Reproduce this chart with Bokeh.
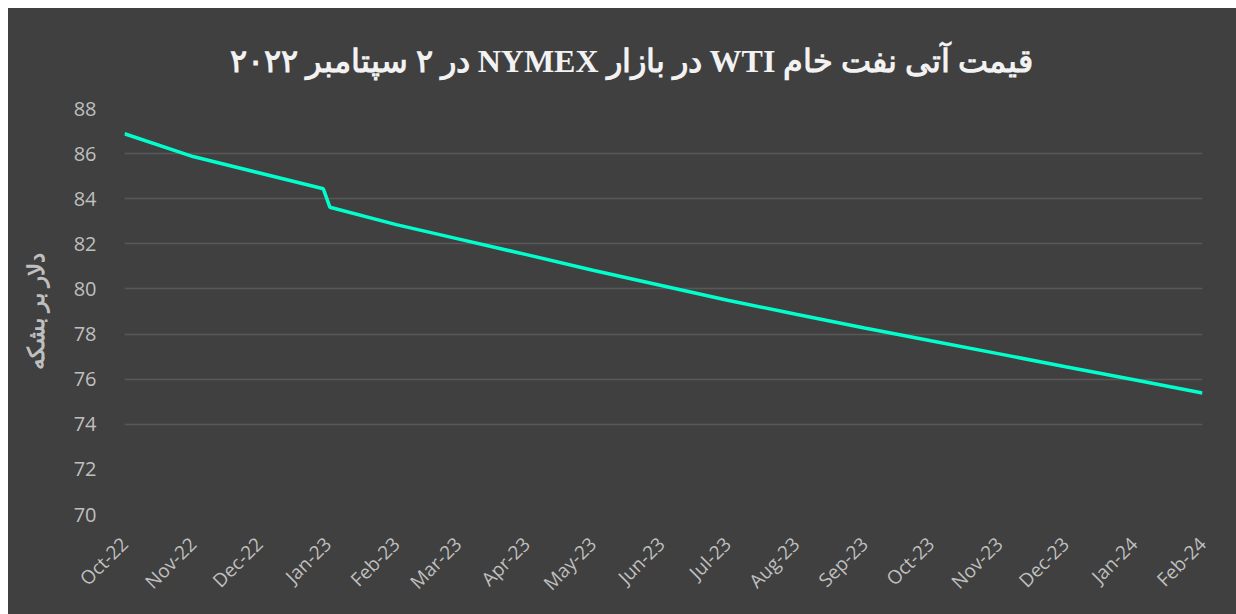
import pandas as pd
from bokeh.plotting import figure
from bokeh.models import FixedTicker, Range1d, Spacer
from bokeh.layouts import column, row
from bokeh.embed import file_html
from bokeh.resources import INLINE

# ---- data ----
dates = ["2022-10-01", "2022-11-01", "2022-12-30", "2023-01-02", "2023-02-01",
         "2023-03-01", "2023-04-01", "2023-05-01", "2023-06-01", "2023-07-01",
         "2023-08-01", "2023-09-01", "2023-10-01", "2023-11-01", "2023-12-01",
         "2024-01-01", "2024-02-01"]
prices = [86.88, 85.87, 84.44, 83.62, 82.85, 82.22, 81.52, 80.83, 80.15, 79.50,
          78.88, 78.27, 77.70, 77.12, 76.55, 75.97, 75.39]
tick_labels = ["Oct-22", "Nov-22", "Dec-22", "Jan-23", "Feb-23", "Mar-23", "Apr-23",
               "May-23", "Jun-23", "Jul-23", "Aug-23", "Sep-23", "Oct-23", "Nov-23",
               "Dec-23", "Jan-24", "Feb-24"]
y_ticks = [70, 72, 74, 76, 78, 80, 82, 84, 86, 88]
grid_values = [74, 76, 78, 80, 82, 84, 86, 88]
title_text = "قیمت آتی نفت خام WTI در بازار NYMEX در ۲ سپتامبر ۲۰۲۲"
y_label = "دلار بر بشکه"

BG = "#404040"
FG = "#bfbfbf"
W, H = 1228, 606

x = pd.to_datetime(pd.Series(dates))
tick_dates = pd.date_range("2022-10-01", "2024-02-01", freq="MS")
tick_ms = [float((d - pd.Timestamp("1970-01-01")) / pd.Timedelta(milliseconds=1)) for d in tick_dates]

p = figure(width=W, height=H, x_axis_type="datetime", output_backend="svg",
           toolbar_location=None,
           x_range=Range1d(tick_ms[0], tick_ms[-1]), y_range=Range1d(70, 88),
           min_border_left=116, min_border_right=34, min_border_top=100,
           min_border_bottom=100)
p.background_fill_color = BG
p.border_fill_color = BG
p.outline_line_color = None
p.styles = {"background-color": BG}

# title: RTL embedding so mixed Persian/Latin text is ordered correctly;
# trailing em spaces shift the visible text slightly left of the frame centre
p.title.text = "\u202b" + title_text + "\u202c" + "\u2003\u2003"
p.title.align = "center"
p.title.text_font = "Liberation Serif"
p.title.text_font_style = "bold"
p.title.text_font_size = "32px"
p.title.text_color = "#f2f2f2"
try:
    p.title.standoff = 59
except Exception:
    pass

p.line(x, prices, line_color="#00FFCC", line_width=3.5)

# x axis
p.xaxis.ticker = FixedTicker(ticks=tick_ms)
p.xaxis.major_label_overrides = {t: l for t, l in zip(tick_ms, tick_labels)}
p.xaxis.major_label_orientation = 0.785398
p.xaxis.axis_line_color = None
p.xaxis.major_tick_line_color = None
p.xaxis.minor_tick_line_color = None
p.xaxis.major_label_text_font = "Open Sans"
p.xaxis.major_label_text_font_size = "19px"
p.xaxis.major_label_text_color = FG
p.xaxis.major_label_standoff = 20
p.xgrid.grid_line_color = None

# y axis
p.yaxis.ticker = FixedTicker(ticks=y_ticks)
p.yaxis.axis_line_color = None
p.yaxis.major_tick_line_color = None
p.yaxis.minor_tick_line_color = None
p.yaxis.major_label_text_font = "Open Sans"
p.yaxis.major_label_text_font_size = "20px"
p.yaxis.major_label_text_color = FG
p.yaxis.major_label_standoff = 22
p.yaxis.axis_label = "\u202b" + y_label + "\u202c"
p.yaxis.axis_label_text_font = "Liberation Serif"
p.yaxis.axis_label_text_font_style = "bold"
p.yaxis.axis_label_text_font_size = "23px"
p.yaxis.axis_label_text_color = FG
p.yaxis.axis_label_standoff = 22
p.ygrid.ticker = FixedTicker(ticks=grid_values)
p.ygrid.grid_line_color = "#585858"
p.ygrid.grid_line_width = 1.5

layout = column(Spacer(height=8, width=W + 8), row(Spacer(width=8, height=H), p))
open("out.html", "w").write(file_html(layout, INLINE))
